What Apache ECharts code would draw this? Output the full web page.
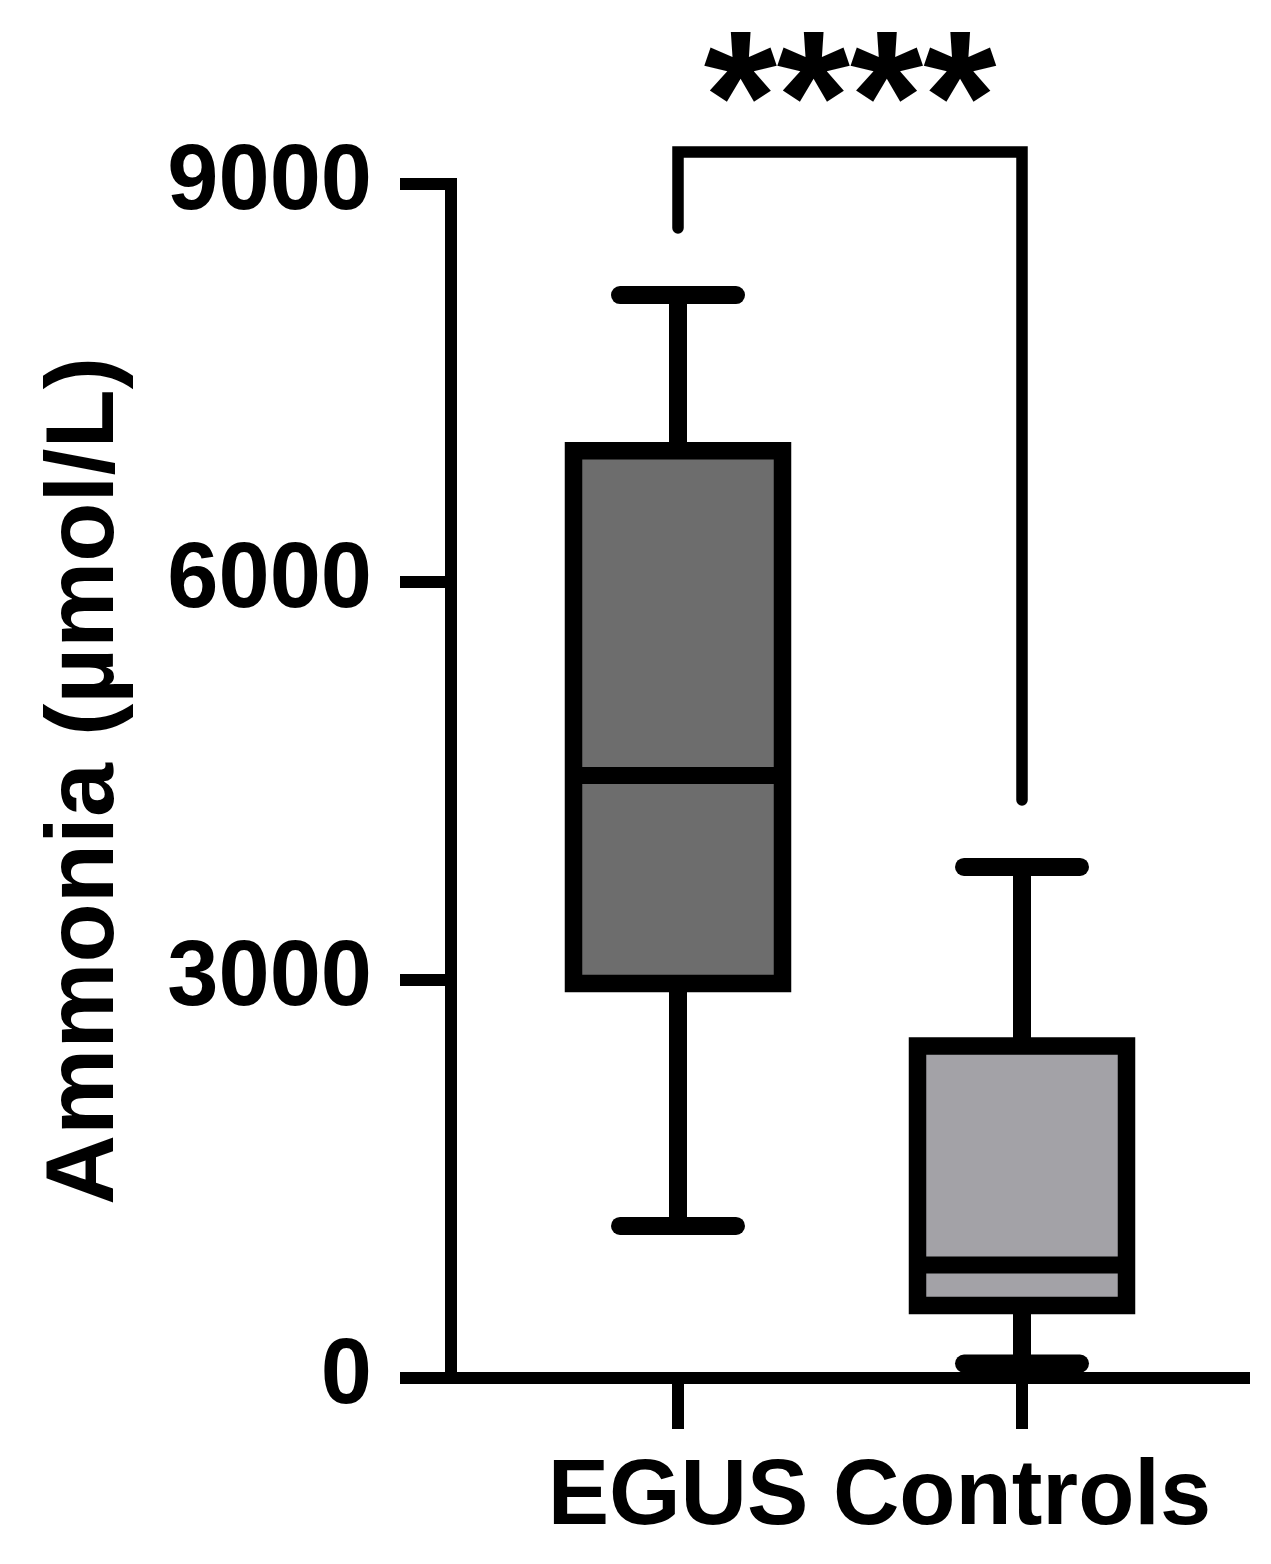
<!DOCTYPE html>
<html>
<head>
<meta charset="utf-8">
<script src="https://cdn.jsdelivr.net/npm/echarts@6/dist/echarts.min.js"></script>
<style>
  html, body { margin: 0; padding: 0; background: #fff; }
  #chart { width: 1271px; height: 1564px; }
</style>
</head>
<body>
<div id="chart"></div>
<script>
// box plot values (µmol/L)
const groups = ['EGUS', 'Controls'];
const whiskerLow = [1146, 109];
const q1 = [2974, 546];
const median = [4541, 852];
const q3 = [6990, 2502];
const whiskerHigh = [8163, 3852];
const yTicks = [0, 3000, 6000, 9000];

// significance bracket: left leg end, right leg end, bar level
const bracketLevels = [8668, 4357, 9241];
const bracketLabel = '****';

const fills = ['#6d6d6d', '#a3a2a7'];
const font = 'Liberation Sans, Arial, sans-serif';

document.addEventListener('DOMContentLoaded', () => {
  const chart = echarts.init(document.getElementById('chart'));

  const yMin = yTicks[0], yMax = yTicks[yTicks.length - 1];
  const yStep = yTicks[1] - yTicks[0];

  chart.setOption({
    animation: false,
    backgroundColor: '#fff',
    grid: [
      { left: 451, right: 21, top: 184, bottom: 186 },
      { left: 506, right: 77, top: 184, bottom: 186 }
    ],
    xAxis: [{
      gridIndex: 0,
      type: 'category',
      data: groups,
      axisLine: { lineStyle: { color: '#000', width: 12, cap: 'butt' } },
      axisTick: { show: false },
      axisLabel: { show: false }
    }, {
      gridIndex: 1,
      type: 'category',
      data: groups,
      axisLine: { show: false },
      axisTick: {
        show: true,
        interval: 0,
        alignWithLabel: true,
        length: 51,
        lineStyle: { color: '#000', width: 12 }
      },
      axisLabel: {
        interval: 0,
        hideOverlap: false,
        color: '#000',
        fontSize: 92,
        fontWeight: 'bold',
        fontFamily: font,
        margin: 75
      }
    }],
    yAxis: [{
      gridIndex: 0,
      type: 'value',
      min: yMin,
      max: yMax,
      interval: yStep,
      name: 'Ammonia (µmol/L)',
      nameLocation: 'middle',
      nameGap: 316,
      nameTextStyle: {
        color: '#000',
        fontSize: 97,
        fontWeight: 'bold',
        fontFamily: font
      },
      splitLine: { show: false },
      axisLine: { show: true, lineStyle: { color: '#000', width: 12, cap: 'square' } },
      axisTick: { show: true, length: 51, lineStyle: { color: '#000', width: 12 } },
      axisLabel: {
        color: '#000',
        fontSize: 92,
        fontWeight: 'bold',
        fontFamily: font,
        margin: 79,
        formatter: v => String(v)
      }
    }, {
      gridIndex: 1,
      type: 'value',
      min: yMin,
      max: yMax,
      show: false,
      splitLine: { show: false }
    }],
    series: [{
      type: 'custom',
      xAxisIndex: 1,
      yAxisIndex: 1,
      data: groups.map((g, i) => [i, whiskerLow[i], q1[i], median[i], q3[i], whiskerHigh[i]]),
      renderItem: (params, api) => {
        const i = api.value(0);
        const x = api.coord([i, 0])[0];
        const y = k => api.coord([i, api.value(k)])[1];
        const yLo = y(1), yQ1 = y(2), yMed = y(3), yQ3 = y(4), yHi = y(5);
        const halfBox = 104.5, halfCap = 58;
        const black = '#000';
        return {
          type: 'group',
          children: [
            { type: 'line', shape: { x1: x, y1: yHi, x2: x, y2: yLo },
              style: { stroke: black, lineWidth: 18 } },
            { type: 'line', shape: { x1: x - halfCap, y1: yHi, x2: x + halfCap, y2: yHi },
              style: { stroke: black, lineWidth: 18, lineCap: 'round' } },
            { type: 'line', shape: { x1: x - halfCap, y1: yLo, x2: x + halfCap, y2: yLo },
              style: { stroke: black, lineWidth: 18, lineCap: 'round' } },
            { type: 'rect', shape: { x: x - halfBox, y: yQ3, width: halfBox * 2, height: yQ1 - yQ3 },
              style: { fill: fills[params.dataIndex], stroke: black, lineWidth: 17.5 } },
            { type: 'line', shape: { x1: x - halfBox, y1: yMed, x2: x + halfBox, y2: yMed },
              style: { stroke: black, lineWidth: 17 } }
          ]
        };
      },
      z: 5
    }, {
      type: 'custom',
      xAxisIndex: 1,
      yAxisIndex: 1,
      data: [[0, 1].concat(bracketLevels)],
      renderItem: (params, api) => {
        const xl = api.coord([api.value(0), 0])[0];
        const xr = api.coord([api.value(1), 0])[0];
        const yl = api.coord([0, api.value(2)])[1];
        const yr = api.coord([0, api.value(3)])[1];
        const yt = api.coord([0, api.value(4)])[1];
        return {
          type: 'group',
          children: [{
            type: 'polyline',
            shape: { points: [[xl, yl], [xl, yt], [xr, yt], [xr, yr]] },
            style: { stroke: '#000', lineWidth: 11.5, fill: null, lineCap: 'round', lineJoin: 'miter' }
          }, {
            type: 'text',
            x: (xl + xr) / 2,
            y: yt - 43,
            style: {
              text: bracketLabel,
              fill: '#000',
              font: 'bold 188px ' + font,
              align: 'center',
              verticalAlign: 'middle'
            }
          }]
        };
      },
      z: 5
    }]
  });
});
</script>
</body>
</html>
